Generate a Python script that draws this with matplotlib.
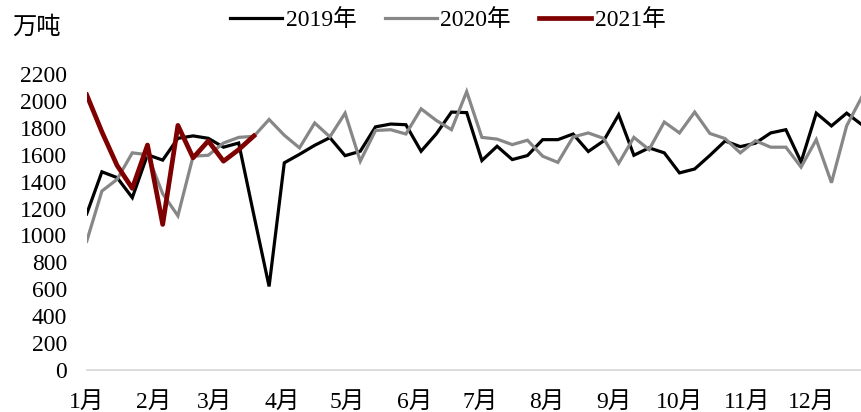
import numpy as np
import matplotlib
matplotlib.use("Agg")
import matplotlib.pyplot as plt

# 字体：数字用衬线体，中文回落到 Noto Sans CJK
plt.rcParams['font.family'] = ['Liberation Serif', 'Noto Sans CJK SC']
plt.rcParams['axes.unicode_minus'] = False

# 每周数据（万吨），第 i 个点对应当年第 i 周
y2019 = [1160, 1473, 1430, 1281, 1600, 1560, 1722, 1740, 1722, 1656,
         1687, 1150, 621, 1540, 1603, 1670, 1727, 1593, 1626, 1807,
         1828, 1823, 1626, 1755, 1917, 1913, 1557, 1663, 1564, 1594,
         1712, 1712, 1754, 1624, 1702, 1897, 1596, 1651, 1614, 1465,
         1494, 1595, 1702, 1660, 1686, 1762, 1786, 1546, 1909, 1814,
         1909, 1823]
y2020 = [957, 1330, 1417, 1614, 1600, 1310, 1146, 1589, 1596, 1687,
         1729, 1737, 1862, 1745, 1651, 1836, 1733, 1909, 1552, 1780,
         1786, 1754, 1941, 1855, 1786, 2069, 1729, 1716, 1675, 1708,
         1589, 1543, 1732, 1762, 1722, 1536, 1729, 1638, 1843, 1762,
         1917, 1758, 1720, 1614, 1704, 1656, 1656, 1508, 1712, 1392,
         1815, 2030]
y2021 = [2045, 1770, 1520, 1350, 1672, 1082, 1818, 1577, 1703, 1552,
         1638, 1740]

month_labels = ['1月', '2月', '3月', '4月', '5月', '6月',
                '7月', '8月', '9月', '10月', '11月', '12月']
month_start_day = [0, 31, 59, 90, 120, 151, 181, 212, 243, 273, 304, 334]
yticks = list(range(0, 2201, 200))

fs = 17

fig = plt.figure(figsize=(8.61, 4.12), dpi=100, facecolor='white')
ax = fig.add_axes([86.7 / 861, 42 / 412, 1 - 86.7 / 861, 296 / 412])

def week_days(vals):
    return np.arange(len(vals)) * 7

l1, = ax.plot(week_days(y2019), y2019, color='black', lw=2.3, solid_joinstyle='miter')
l2, = ax.plot(week_days(y2020), y2020, color='#878787', lw=2.3, solid_joinstyle='miter')
l3, = ax.plot(week_days(y2021), y2021, color='#7f0000', lw=3.4, solid_joinstyle='round')

ax.set_xlim(0, 356.6)
ax.set_ylim(0, 2200)
ax.set_yticks(yticks)
ax.set_yticklabels([str(v) for v in yticks], fontsize=fs)
ax.set_xticks(month_start_day)
ax.set_xticklabels(month_labels, fontsize=fs)
ax.tick_params(axis='both', length=0)
ax.tick_params(axis='y', pad=14)
ax.tick_params(axis='x', pad=16)

for s in ['top', 'right', 'left']:
    ax.spines[s].set_visible(False)
ax.spines['bottom'].set_color('#d9d9d9')
ax.spines['bottom'].set_linewidth(1.3)

fig.text(12 / 861, 1 - 28 / 412, '万吨', fontsize=17.5, va='center', ha='left')

fig.legend([l1, l2, l3], ['2019年', '2020年', '2021年'], loc='center',
           bbox_to_anchor=(448 / 861, 1 - 20 / 412), ncol=3, frameon=False,
           fontsize=fs, handlelength=2.2, handletextpad=0.15,
           columnspacing=1.2, borderpad=0)

fig.savefig('out.png', dpi=100, facecolor='white')
